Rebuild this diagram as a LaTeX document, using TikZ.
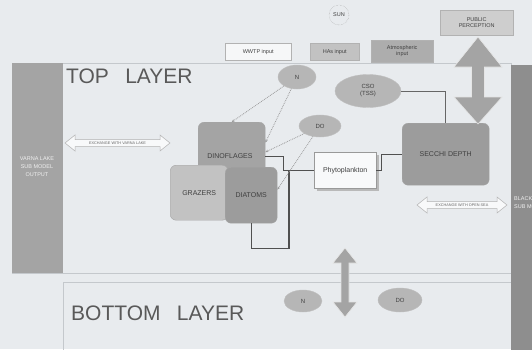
\documentclass[tikz,border=0pt]{standalone}
\usepackage{fontspec}
\setmainfont{Liberation Sans}
\usetikzlibrary{shapes.geometric,arrows.meta,shadows,calc}
\definecolor{paper}{HTML}{E8EBEE}
\definecolor{panelline}{HTML}{C4C8CC}
\definecolor{boxtext}{HTML}{404040}
\definecolor{midgray}{HTML}{A4A4A4}
\definecolor{lightgray}{HTML}{C2C2C2}
\definecolor{darkbar}{HTML}{8E8E8E}
\definecolor{ellgray}{HTML}{B6B6B6}
\definecolor{linkdark}{HTML}{505050}
\definecolor{dotcol}{HTML}{9A9A9A}
\begin{document}
\begin{tikzpicture}[x=1pt,y=-1pt,
  boxlabel/.style={font=\fontsize{7}{8}\selectfont, text=boxtext, align=center},
  rbox/.style={boxlabel, draw=gray!70, rounded corners=6pt, inner sep=0pt, anchor=north west},
  inbox/.style={font=\fontsize{5.5}{6.5}\selectfont, text=boxtext, align=center, inner sep=0pt, anchor=north west, draw=gray!60},
  ell/.style={ellipse, fill=ellgray, draw=gray!50, inner sep=0pt, font=\fontsize{6}{7}\selectfont, text=boxtext, align=center},
  barlabel/.style={font=\fontsize{5.5}{8}\selectfont, text=white!88!gray, align=center},
  layerlabel/.style={font=\fontsize{21}{24}\selectfont, text=black!65, anchor=west, inner sep=0pt},
  link/.style={draw=linkdark, line width=1.3pt},
  dotline/.style={draw=dotcol, densely dotted, line width=0.8pt, -{Stealth[length=3pt,width=2.5pt]}},
  bigarrow/.style={fill=midgray, draw=white!80!gray, line width=0.6pt},
  xarrow/.style={fill=white!70!paper, draw=gray!60, line width=0.5pt},
  xlabel/.style={font=\fontsize{3.8}{4}\selectfont, text=black!60, inner sep=0pt}
]
\useasboundingbox (0,0) rectangle (532,349);
\fill[paper] (0,0) rectangle (532,349);

% panels
\draw[panelline, line width=0.6pt] (12,63) rectangle (511,273);
\draw[panelline, line width=0.6pt] (63,282) rectangle (511,355);
\fill[midgray] (12,63) rectangle (63,273);
\fill[darkbar] (511,65) rectangle (540,355);

\node[barlabel] (varna) at (37,167) {VARNA LAKE\\SUB MODEL\\OUTPUT};
\node[barlabel, anchor=north west, align=left, inner sep=0pt] (black) at (514,196) {BLACK SEA\\SUB MODEL};

\node[layerlabel] (top) at (66,76) {TOP\hspace{0.5em} LAYER};
\node[layerlabel] (bottom) at (71,313) {BOTTOM\hspace{0.5em} LAYER};

% top inputs
\node[circle, draw=gray!70, densely dotted, minimum size=20pt, inner sep=0pt, font=\fontsize{5.5}{6}\selectfont, text=boxtext] (sun) at (339,15) {SUN};
\node[inbox, fill=lightgray!80, minimum width=73pt, minimum height=25pt] (pp) at (440,10) {PUBLIC\\PERCEPTION};
\node[inbox, fill=white!60!paper, minimum width=66pt, minimum height=17pt] (wwtp) at (225,43) {WWTP input};
\node[inbox, fill=lightgray, minimum width=49pt, minimum height=17pt] (has) at (310,43) {HAs input};
\node[inbox, fill=midgray!90, minimum width=62pt, minimum height=22pt] (atm) at (371,40) {Atmospheric\\input};

% ellipses
\node[ell, minimum width=38pt, minimum height=24pt] (n) at (297,77) {N};
\node[ell, minimum width=66pt, minimum height=33pt] (cso) at (368,91) {CSO\\(TSS)};
\node[ell, minimum width=42pt, minimum height=22pt] (do) at (320,126) {DO};

% boxes
\node[rbox, fill=midgray, minimum width=67pt, minimum height=68pt] (dino) at (198,122) {};
\node[boxlabel] (dinotext) at (230,156) {DINOFLAGES};
\node[rbox, fill=lightgray, minimum width=58pt, minimum height=55pt] (graz) at (170,165) {GRAZERS};
\node[rbox, fill=midgray!95!black, minimum width=52pt, minimum height=56pt] (diat) at (225,167) {DIATOMS};
\node[rbox, fill=midgray!95!black, minimum width=87pt, minimum height=62pt] (secchi) at (402,123) {SECCHI DEPTH};
\node[boxlabel, draw=gray!80, fill=white!70!paper, minimum width=62pt, minimum height=36pt, inner sep=0pt, anchor=north west,
  drop shadow={shadow xshift=2.5pt, shadow yshift=-2.5pt, fill=gray!55, opacity=1}] (phyto) at (314,152) {Phytoplankton};

% big vertical arrow (public perception <-> secchi depth)
\draw[bigarrow] (478,37) -- (502,67) -- (484.5,67) -- (484.5,97) -- (502,97) -- (478,124)
  -- (454,97) -- (471.5,97) -- (471.5,67) -- (454,67) -- cycle;

% dark connectors
\coordinate (j1) at (289,170);
\draw[link] (dino.east) -- ++(18,0) |- (phyto.west);
\draw[link] (diat.south) -- ++(0,25) -| (j1);
\draw[link] (phyto.east) -- ++(5,0) |- (secchi.west);
\draw[link, draw=gray!80!black, line width=0.9pt] (cso.east) -| (secchi.north);

% dotted influence lines
\coordinate (d1) at ($(dino.north east)!0.3!(dino.south east)$);
\coordinate (d2) at ($(dino.north east)!0.44!(dino.south east)$);
\coordinate (d3) at ($(diat.north east)!0.4!(diat.south east)$);
\draw[dotline] (n) -- (dino.north);
\draw[dotline] (n) -- (d1);
\draw[dotline] (do) -- (d2);
\draw[dotline] (do) -- (d3);

% exchange arrows
\draw[xarrow] (65,143) -- (75,135) -- (75,139.5) -- (160,139.5) -- (160,135) -- (170,143)
  -- (160,151) -- (160,146.5) -- (75,146.5) -- (75,151) -- cycle;
\node[xlabel] (xvarna) at (117.5,143) {EXCHANGE WITH VARNA LAKE};
\draw[xarrow] (417,205) -- (427,197) -- (427,201.5) -- (497,201.5) -- (497,197) -- (507,205)
  -- (497,213) -- (497,208.5) -- (427,208.5) -- (427,213) -- cycle;
\node[xlabel] (xsea) at (462,205) {EXCHANGE WITH OPEN SEA};

% bottom layer
\node[ell, minimum width=38pt, minimum height=22pt] (nb) at (303,301) {N};
\node[ell, minimum width=44pt, minimum height=24pt] (dob) at (400,300) {DO};
\draw[bigarrow] (345,248) -- (357,263) -- (349,263) -- (349,302) -- (357,302) -- (345,317)
  -- (333,302) -- (341,302) -- (341,263) -- (333,263) -- cycle;
\end{tikzpicture}
\end{document}
